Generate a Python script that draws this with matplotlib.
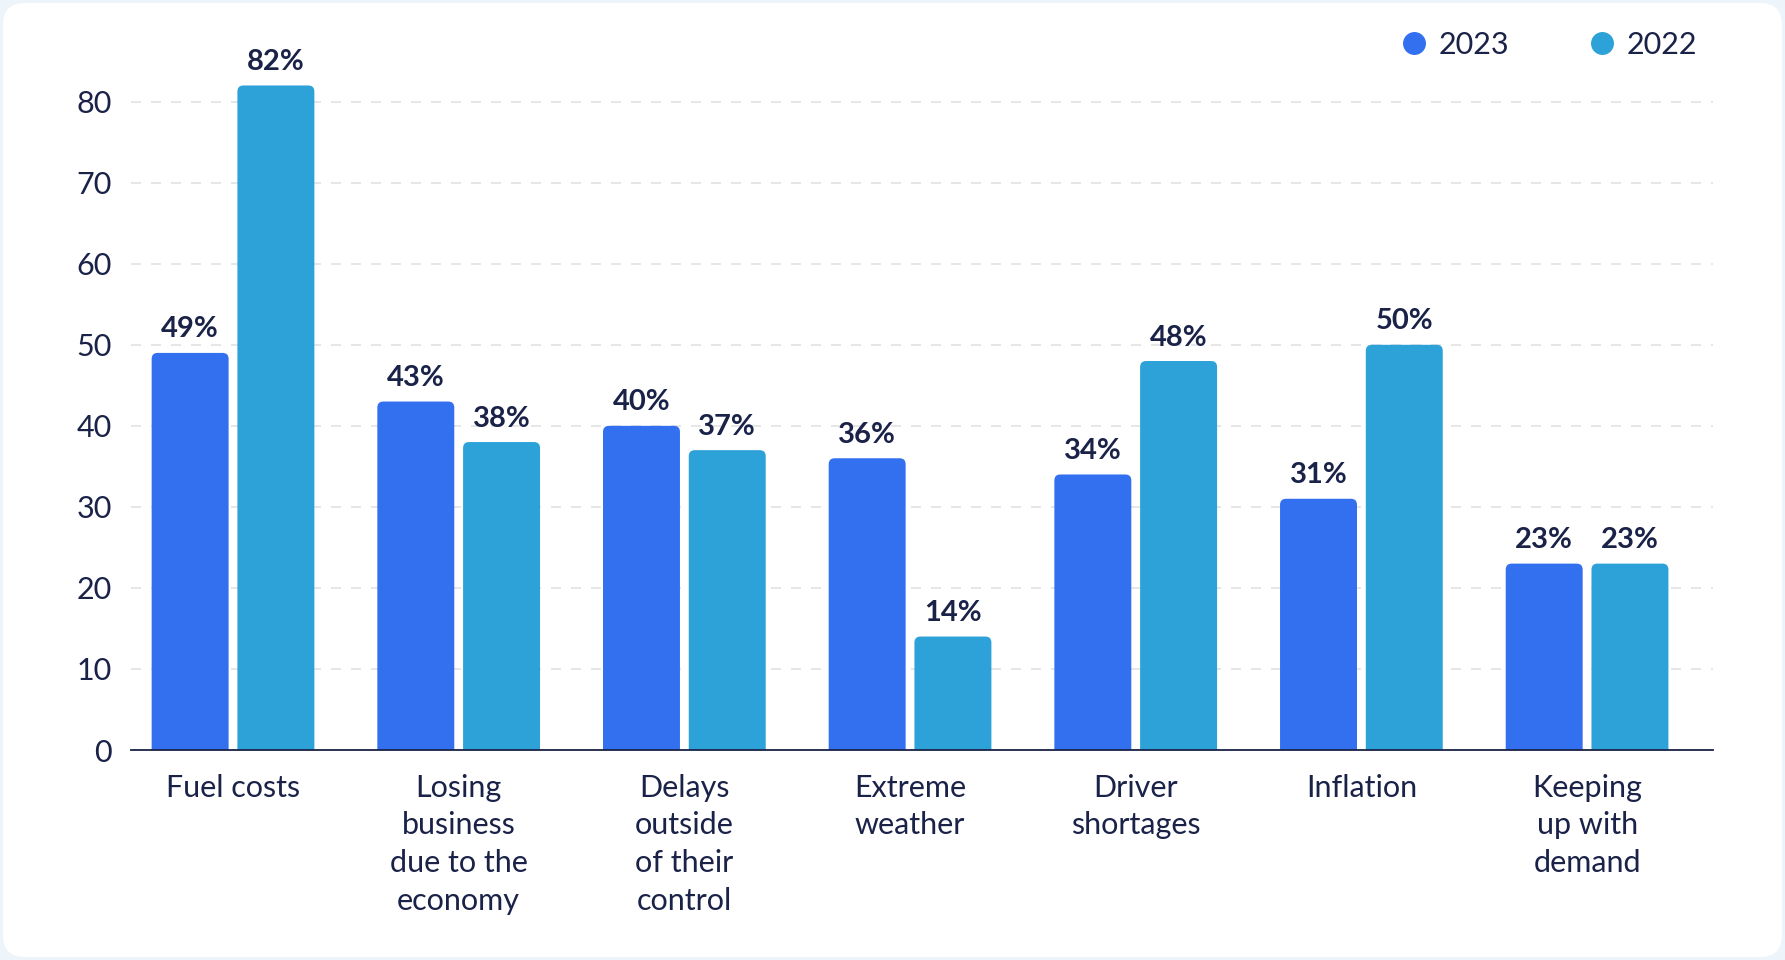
import numpy as np
import matplotlib
matplotlib.use('Agg')
import matplotlib.pyplot as plt
from matplotlib.patches import FancyBboxPatch
from matplotlib.lines import Line2D

plt.rcParams['font.family'] = ['Lato', 'DejaVu Sans']

categories = ['Fuel costs', 'Losing\nbusiness\ndue to the\neconomy', 'Delays\noutside\nof their\ncontrol',
              'Extreme\nweather', 'Driver\nshortages', 'Inflation', 'Keeping\nup with\ndemand']
values_2023 = [49, 43, 40, 36, 34, 31, 23]
values_2022 = [82, 38, 37, 14, 48, 50, 23]
years = ['2023', '2022']
colors = ['#3270F0', '#2CA2D9']

navy = '#1a2248'
W, H = 1785, 960

fig = plt.figure(figsize=(W / 100, H / 100), dpi=100)
fig.patch.set_facecolor('#edf5fb')

# white card with rounded corners, kept behind the axes
inset = 3
card = FancyBboxPatch((inset / W, inset / H), 1 - 2 * inset / W, 1 - 2 * inset / H,
                      boxstyle='round,pad=0,rounding_size=%f' % (22 / W),
                      mutation_aspect=W / H, transform=fig.transFigure,
                      facecolor='white', edgecolor='none', zorder=-10)
fig.patches.append(card)

ymax = 85
px_per_unit = 8.104
ax_left, ax_right, ax_bottom = 131, 1713, 750
ax = fig.add_axes([ax_left / W, 1 - ax_bottom / H, (ax_right - ax_left) / W, ymax * px_per_unit / H])
ax.set_facecolor('none')

x = np.arange(len(categories))
width = 0.341
offset = 0.19
xlim = (-0.452, 6.558)
ax.set_xlim(*xlim)
ax.set_ylim(0, ymax)

# rounding of bar tops in data units
x_per_px = (xlim[1] - xlim[0]) / (ax_right - ax_left)
aspect = (1 / px_per_unit) / x_per_px
radius = 6 * x_per_px

for vals, col, sign in [(values_2023, colors[0], -1), (values_2022, colors[1], 1)]:
    bars = ax.bar(x + sign * offset, vals, width, color=col)
    for rect, v in zip(bars, vals):
        rect.set_visible(False)
        ax.add_patch(FancyBboxPatch((rect.get_x(), -2), rect.get_width(), rect.get_height() + 2,
                                    boxstyle='round,pad=0,rounding_size=%f' % radius,
                                    mutation_aspect=aspect, facecolor=col, edgecolor='none', zorder=3))
        ax.annotate('%d%%' % v, (rect.get_x() + rect.get_width() / 2, v), xytext=(0, 7.5),
                    textcoords='offset points', ha='center', va='bottom', fontsize=21,
                    fontweight='bold', color=navy, zorder=4)

ax.set_yticks(range(0, 90, 10))
ax.yaxis.grid(True, linestyle=(0, (6, 6)), color='#e2e2e2', linewidth=1.2)
ax.set_axisbelow(True)
for s in ['top', 'right', 'left']:
    ax.spines[s].set_visible(False)
ax.spines['bottom'].set_color(navy)
ax.spines['bottom'].set_linewidth(1.3)
ax.spines['bottom'].set_zorder(5)

ax.set_xticks(x)
ax.set_xticklabels(categories, linespacing=1.42)
ax.tick_params(axis='x', length=0, pad=17, labelsize=22, labelcolor=navy)
ax.tick_params(axis='y', length=0, pad=14, labelsize=22, labelcolor=navy)

handles = [Line2D([], [], marker='o', linestyle='none', markersize=15.5, color=c) for c in colors]
fig.legend(handles, years, loc='center', bbox_to_anchor=(1550 / W, 1 - 45 / H), ncol=2, frameon=False,
           fontsize=22, labelcolor=navy, handlelength=0.7, handletextpad=0.45, columnspacing=2.7)

fig.savefig('out.png', dpi=100, facecolor=fig.get_facecolor())
